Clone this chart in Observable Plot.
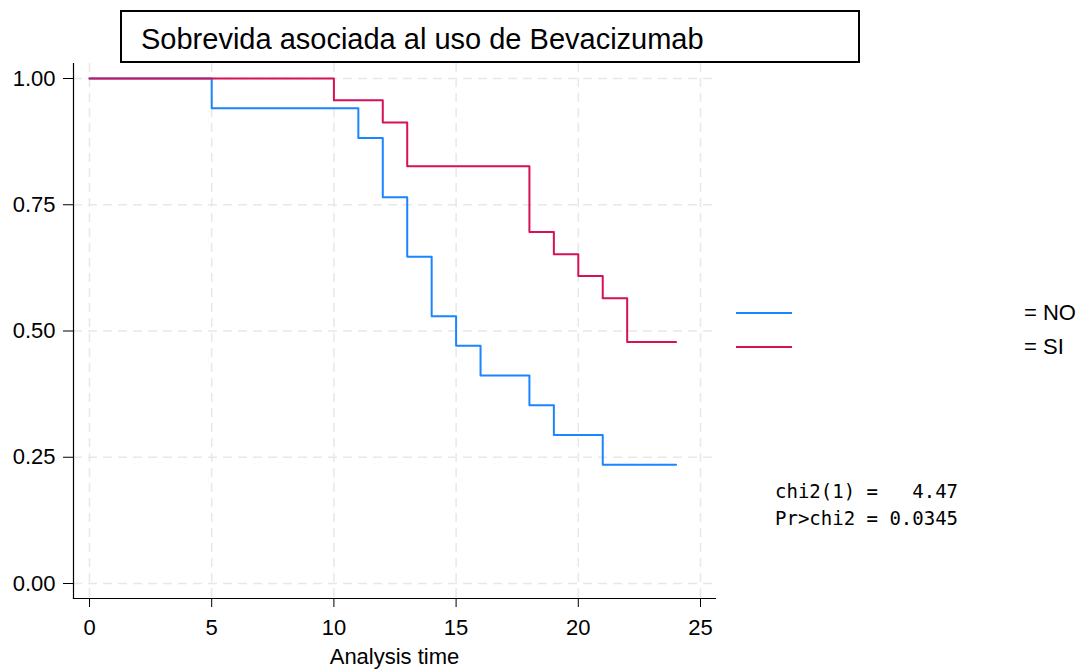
<!DOCTYPE html>
<html>
<head>
<meta charset="utf-8">
<script src="https://cdn.jsdelivr.net/npm/d3@7"></script>
<script src="https://cdn.jsdelivr.net/npm/@observablehq/plot@0.6"></script>
<style>
  html, body { margin: 0; padding: 0; background: #fff; }
  #wrap { position: relative; width: 1085px; height: 670px; overflow: hidden; font-family: "Liberation Sans", Arial, sans-serif; }
  #title { position: absolute; left: 120px; top: 10px; width: 740px; height: 53px; border: 2px solid #000; background: #fff;
           font-size: 29px; line-height: 54px; padding-left: 19px; box-sizing: border-box; color: #000; white-space: nowrap; }
  .leg-line { position: absolute; height: 2px; width: 56px; }
  .leg-text { position: absolute; font-size: 22px; color: #000; line-height: 24px; white-space: pre; }
  .stat { position: absolute; left: 775px; font-family: "DejaVu Sans Mono", "Liberation Mono", monospace; font-size: 19px; line-height: 22px; white-space: pre; color: #000; }
</style>
</head>
<body>
<div id="wrap"></div>
<script>
// Kaplan-Meier survival estimates by group
const timesNO = [0, 5, 11, 12, 13, 14, 15, 16, 18, 19, 21, 24];
const survNO  = [1.000, 0.941, 0.882, 0.765, 0.647, 0.529, 0.471, 0.412, 0.353, 0.294, 0.235, 0.235];
const timesSI = [0, 10, 12, 13, 18, 19, 20, 21, 22, 24];
const survSI  = [1.000, 0.957, 0.913, 0.826, 0.696, 0.652, 0.609, 0.565, 0.478, 0.478];
const groups = ["NO", "SI"];
const colors = ["#1a85ff", "#d41159"];
const xTicks = [0, 5, 10, 15, 20, 25];
const yTicks = [0, 0.25, 0.5, 0.75, 1];
const titleText = "Sobrevida asociada al uso de Bevacizumab";
const xLabel = "Analysis time";
const statLines = ["chi2(1) =   4.47", "Pr>chi2 = 0.0345"];

const data = [
  ...timesNO.map((t, i) => ({group: "NO", time: t, surv: survNO[i]})),
  ...timesSI.map((t, i) => ({group: "SI", time: t, surv: survSI[i]}))
];

const chart = Plot.plot({
  width: 1085,
  height: 670,
  marginLeft: 73,
  marginRight: 370,
  marginTop: 63,
  marginBottom: 72,
  style: {fontFamily: "Liberation Sans, Arial, sans-serif", fontSize: "22px", color: "#000", background: "#fff", overflow: "visible"},
  x: {domain: [0, 25], insetLeft: 16, insetRight: 15},
  y: {domain: [0, 1], insetTop: 15, insetBottom: 15},
  color: {domain: groups, range: colors},
  marks: [
    Plot.gridX(xTicks, {stroke: "#e8e8e8", strokeOpacity: 1, strokeWidth: 1.5, strokeDasharray: "9,6"}),
    Plot.gridY(yTicks, {stroke: "#e8e8e8", strokeOpacity: 1, strokeWidth: 1.5, strokeDasharray: "9,6"}),
    Plot.frame({anchor: "left", stroke: "#000", strokeWidth: 1.2}),
    Plot.frame({anchor: "bottom", stroke: "#000", strokeWidth: 1.2}),
    Plot.axisX(xTicks, {tickSize: 9, tickPadding: 12, label: null, fontSize: 22}),
    Plot.axisY(yTicks, {tickSize: 10, tickPadding: 8, tickFormat: d3.format(".2f"), label: null, fontSize: 22}),
    Plot.axisX({ticks: [], label: xLabel, labelAnchor: "center", labelArrow: "none", labelOffset: 65, fontSize: 22, tickSize: 0}),
    Plot.line(data, {x: "time", y: "surv", z: "group", stroke: "group", curve: "step-after", strokeWidth: 2})
  ]
});

const wrap = document.getElementById("wrap");
wrap.appendChild(chart);

const title = document.createElement("div");
title.id = "title";
title.textContent = titleText;
wrap.appendChild(title);

const legY = [313, 347];
groups.forEach((g, i) => {
  const l = document.createElement("div");
  l.className = "leg-line";
  l.style.left = "736px";
  l.style.top = (legY[i] - 1) + "px";
  l.style.background = colors[i];
  wrap.appendChild(l);
  const t = document.createElement("div");
  t.className = "leg-text";
  t.style.left = "1024px";
  t.style.top = (legY[i] - 12) + "px";
  t.textContent = "= " + g;
  wrap.appendChild(t);
});

statLines.forEach((s, i) => {
  const d = document.createElement("div");
  d.className = "stat";
  d.style.top = (480 + i * 27) + "px";
  d.textContent = s;
  wrap.appendChild(d);
});
</script>
</body>
</html>
